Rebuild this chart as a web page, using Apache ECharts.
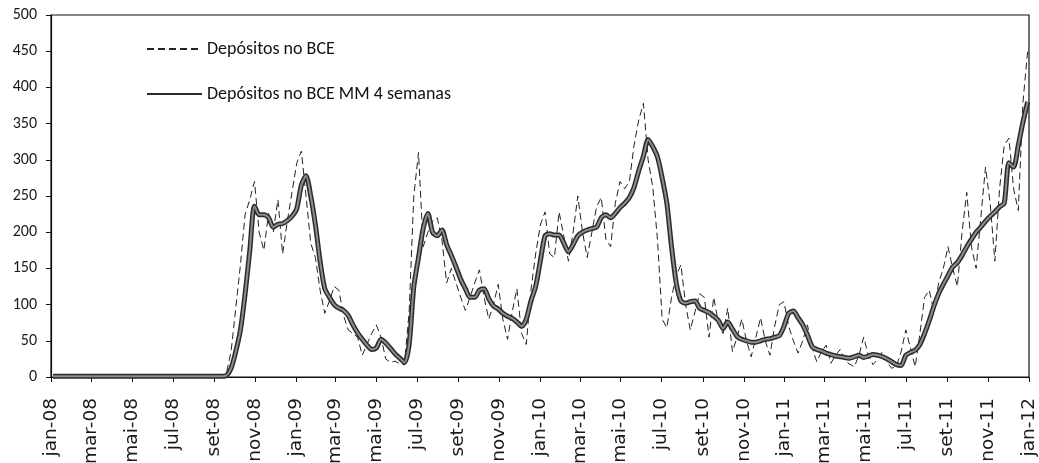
<!DOCTYPE html>
<html>
<head>
<meta charset="utf-8">
<title>Depósitos no BCE</title>
<script src="https://cdn.jsdelivr.net/npm/echarts@6/dist/echarts.min.js"></script>
<style>
  html, body { margin: 0; padding: 0; background: #fff; }
  #chart { width: 1039px; height: 463px; }
</style>
</head>
<body>
<div id="chart"></div>
<script>
// Weekly observations, first week ending 4 Jan 2008 (mil milhões de euros)
const firstWeek = '2008-01-04';
const monthNames = ['jan', 'fev', 'mar', 'abr', 'mai', 'jun', 'jul', 'ago', 'set', 'out', 'nov', 'dez'];

// Depósitos no BCE (weekly level)
const depositos = [
  1, 1, 1, 1, 1, 1, 1, 1, 1, 1,
  1, 1, 1, 1, 1, 1, 1, 1, 1, 1,
  1, 1, 1, 1, 1, 1, 1, 1, 1, 1,
  1, 1, 1, 1, 1, 1, 1, 5, 35, 95,
  155, 225, 245, 270, 200, 175, 226, 200, 245, 170,
  215, 255, 295, 312, 250, 185, 165, 120, 88, 105,
  125, 120, 85, 65, 60, 55, 30, 45, 60, 72,
  55, 25, 20, 22, 18, 17, 90, 250, 310, 180,
  200, 215, 220, 190, 130, 150, 130, 110, 92, 110,
  130, 148, 110, 80, 100, 128, 80, 52, 90, 122,
  60, 45, 120, 170, 210, 228, 170, 165, 228, 195,
  160, 200, 250, 200, 165, 200, 235, 248, 190, 180,
  240, 270, 260, 270, 320, 355, 378, 300, 262, 190,
  80, 68, 110, 140, 155, 100, 65, 90, 115, 110,
  55, 110, 75, 60, 95, 35, 55, 80, 50, 28,
  55, 82, 50, 30, 70, 100, 104, 70, 50, 33,
  50, 72, 40, 21, 35, 44, 19, 30, 38, 22,
  18, 14, 30, 55, 30, 17, 25, 35, 20, 12,
  15, 35, 65, 40, 14, 60, 110, 120, 90, 130,
  150, 180, 150, 125, 200, 255, 180, 150, 220, 290,
  240, 160, 260, 320, 330, 260, 230, 380, 450
];

// Depósitos no BCE, média móvel de 4 semanas
const depositosMM4 = [
  1, 1, 1, 1, 1, 1, 1, 1, 1, 1,
  1, 1, 1, 1, 1, 1, 1, 1, 1, 1,
  1, 1, 1, 1, 1, 1, 1, 1, 1, 1,
  1, 1, 1, 1, 1, 1, 1, 2, 12, 35,
  65, 115, 175, 236, 224, 224, 220, 207, 211, 212,
  216, 222, 232, 265, 278, 250, 210, 160, 122, 110,
  100, 95, 92, 85, 72, 61, 52, 44, 38, 40,
  52, 47, 40, 32, 26, 20, 45, 125, 165, 205,
  226, 200, 195, 203, 183, 168, 152, 135, 122, 110,
  110, 120, 122, 108, 98, 94, 88, 84, 81, 76,
  70, 80, 105, 125, 160, 195, 198, 196, 196, 185,
  173, 183, 195, 200, 203, 205, 207, 220, 224, 220,
  226, 234, 240, 248, 262, 285, 305, 328, 318, 304,
  275, 240, 180, 130, 105, 102, 104, 105, 95, 92,
  89, 84, 78, 67, 76, 66, 56, 52, 50, 48,
  48, 50, 52, 53, 55, 57, 70, 88, 91, 82,
  72, 58, 42, 38, 36, 33, 31, 29, 28, 27,
  26, 28, 30, 27, 29, 31, 30, 28, 25, 21,
  17, 16, 30, 34, 37, 45, 60, 78, 98, 115,
  128, 140, 152, 158, 168, 180, 190, 200, 207, 215,
  222, 228, 235, 240, 296, 290, 320, 352, 380
];

// Axis ticks: every second month from Jan 2008 to Jan 2012
const axisStart = Date.UTC(2008, 0, 1);
const axisEnd = Date.UTC(2012, 0, 1);
const monthTicks = [];
for (let m = 0; m <= 48; m += 2) {
  monthTicks.push(Date.UTC(2008 + Math.floor(m / 12), m % 12, 1));
}

const DAY = 86400000;
const t0 = Date.parse(firstWeek + 'T00:00:00Z');
const weekDates = depositos.map((_, i) => t0 + i * 7 * DAY);
const pairs = arr => arr.map((v, i) => [weekDates[i], v]);

const fontFamily = 'Carlito, Lato, "Open Sans", sans-serif';
const MA_NAME = 'Depósitos no BCE MM 4 semanas';

const chart = echarts.init(document.getElementById('chart'), null, { renderer: 'canvas' });

chart.setOption({
  animation: false,
  backgroundColor: '#ffffff',
  textStyle: { fontFamily: fontFamily, color: '#1a1a1a' },
  grid: {
    left: 51, right: 10, top: 15, bottom: 86,
    show: true, borderColor: '#111', borderWidth: 1.2,
    containLabel: false,
    outerBoundsMode: 'none'
  },
  legend: {
    orient: 'vertical',
    left: 141,
    top: 35,
    itemWidth: 55,
    itemHeight: 14,
    itemGap: 27,
    itemStyle: { opacity: 0 },
    textStyle: { fontSize: 18, color: '#111', fontFamily: fontFamily, lineHeight: 18 },
    data: ['Depósitos no BCE', MA_NAME]
  },
  xAxis: {
    type: 'value',
    min: axisStart,
    max: axisEnd,
    axisLine: { show: true, lineStyle: { color: '#111', width: 1.2 } },
    axisTick: { show: true, customValues: monthTicks, length: 5, lineStyle: { color: '#111' } },
    axisLabel: {
      customValues: monthTicks,
      rotate: 90,
      margin: 21,
      fontSize: 18.5,
      fontFamily: '"DejaVu Sans", sans-serif',
      color: '#1a1a1a',
      formatter: function (v) {
        const d = new Date(v);
        const yy = String(d.getUTCFullYear() % 100).padStart(2, '0');
        return monthNames[d.getUTCMonth()] + '-' + yy;
      }
    },
    splitLine: { show: false }
  },
  yAxis: {
    type: 'value',
    min: 0,
    max: 500,
    interval: 50,
    axisLine: { show: true, lineStyle: { color: '#111', width: 1.2 } },
    axisTick: { show: true, length: 5, lineStyle: { color: '#111' } },
    axisLabel: { fontSize: 16, margin: 14, color: '#1a1a1a' },
    splitLine: { show: false }
  },
  series: [
    {
      name: 'Depósitos no BCE',
      type: 'line',
      data: pairs(depositos),
      symbol: 'none',
      itemStyle: { color: '#222' },
      lineStyle: { color: '#222', width: 1, type: [7, 4] },
      z: 2
    },
    {
      name: MA_NAME,
      type: 'line',
      data: pairs(depositosMM4),
      symbol: 'none',
      smooth: 0.25,
      itemStyle: { color: '#2a2a2a' },
      lineStyle: { color: '#2a2a2a', width: 5 },
      z: 3
    },
    {
      // lighter core of the moving-average stroke
      name: MA_NAME,
      type: 'line',
      data: pairs(depositosMM4),
      symbol: 'none',
      smooth: 0.25,
      itemStyle: { color: '#8c8c8c' },
      lineStyle: { color: '#8c8c8c', width: 2 },
      z: 4
    }
  ]
});
</script>
</body>
</html>
